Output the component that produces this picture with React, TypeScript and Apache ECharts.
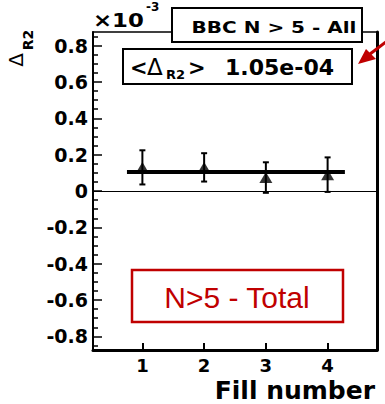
import React, { useEffect, useRef } from "react";
import * as echarts from "echarts";

// ---- data ----
const fills = [1, 2, 3, 4];
const deltaR2 = [0.13, 0.13, 0.074, 0.09]; // x10^-3
const deltaErr = [0.094, 0.078, 0.084, 0.095];
const meanValue = 0.105; // <Delta_R2> = 1.05e-04
const fitRange = [0.75, 4.28];
const xTicks = [1, 2, 3, 4];
const yTicks = [-0.8, -0.6, -0.4, -0.2, 0, 0.2, 0.4, 0.6, 0.8];
const yMinorTicks = [
  -0.85, -0.75, -0.7, -0.65, -0.55, -0.5, -0.45, -0.35, -0.3, -0.25, -0.15, -0.1, -0.05,
  0.05, 0.1, 0.15, 0.25, 0.3, 0.35, 0.45, 0.5, 0.55, 0.65, 0.7, 0.75, 0.85,
];
const xRange = [0.2, 4.8];
const yRange = [-0.875, 0.875];

const BOLD = "DejaVu Sans";
const RED = "#c00000";

export default function App() {
  const ref = useRef<HTMLDivElement>(null);
  useEffect(() => {
    if (!ref.current) return;
    const chart = echarts.init(ref.current, undefined, { renderer: "svg" });
    const option: any = {
      animation: false,
      backgroundColor: "#fff",
      grid: {
        left: 93,
        right: 8,
        top: 32,
        bottom: 54,
        containLabel: false,
        outerBoundsMode: "none",
      },
      xAxis: [
        {
          type: "value",
          min: xRange[0],
          max: xRange[1],
          position: "bottom",
          axisLine: { show: true, onZero: false, lineStyle: { color: "#000", width: 3 } },
          axisTick: {
            show: true,
            inside: true,
            length: 7,
            customValues: xTicks,
            lineStyle: { color: "#000", width: 2 },
          },
          axisLabel: {
            color: "#000",
            fontFamily: BOLD,
            fontWeight: "bold",
            fontSize: 18,
            margin: 6,
            customValues: xTicks,
          },
          splitLine: { show: false },
        },
        {
          type: "value",
          min: xRange[0],
          max: xRange[1],
          position: "top",
          axisLine: { show: true, onZero: false, lineStyle: { color: "#000", width: 1.5 } },
          axisTick: { show: false },
          axisLabel: { show: false },
          splitLine: { show: false },
        },
      ],
      yAxis: [
        {
          type: "value",
          min: yRange[0],
          max: yRange[1],
          position: "left",
          axisLine: { show: true, onZero: false, lineStyle: { color: "#000", width: 2 } },
          axisTick: {
            show: true,
            inside: true,
            length: 9,
            customValues: yTicks,
            lineStyle: { color: "#000", width: 1.5 },
          },
          axisLabel: {
            color: "#000",
            fontFamily: BOLD,
            fontWeight: "bold",
            fontSize: 19,
            margin: 5,
            customValues: yTicks,
            formatter: (v: number) => (Math.abs(v) < 1e-9 ? "0" : v.toFixed(1)),
          },
          splitLine: { show: false },
        },
        {
          type: "value",
          min: yRange[0],
          max: yRange[1],
          position: "left",
          axisLine: { show: false },
          axisTick: {
            show: true,
            inside: true,
            length: 5,
            customValues: yMinorTicks,
            lineStyle: { color: "#000", width: 1.5 },
          },
          axisLabel: { show: false },
          splitLine: { show: false },
        },
        {
          type: "value",
          min: yRange[0],
          max: yRange[1],
          position: "right",
          axisLine: { show: true, onZero: false, lineStyle: { color: "#000", width: 3 } },
          axisTick: { show: false },
          axisLabel: { show: false },
          splitLine: { show: false },
        },
      ],
      series: [
        {
          type: "custom",
          name: "errors",
          xAxisIndex: 0,
          yAxisIndex: 0,
          data: fills.map((f, i) => [f, deltaR2[i], deltaErr[i]]),
          renderItem: (params: any, api: any) => {
            const x = api.value(0);
            const y = api.value(1);
            const e = api.value(2);
            const top = api.coord([x, y + e]);
            const bot = api.coord([x, y - e]);
            const cap = 3;
            const style = { stroke: "#000", lineWidth: 2 };
            return {
              type: "group",
              children: [
                { type: "line", shape: { x1: top[0], y1: top[1], x2: bot[0], y2: bot[1] }, style },
                { type: "line", shape: { x1: top[0] - cap, y1: top[1], x2: top[0] + cap, y2: top[1] }, style },
                { type: "line", shape: { x1: bot[0] - cap, y1: bot[1], x2: bot[0] + cap, y2: bot[1] }, style },
              ],
            };
          },
          z: 3,
        },
        {
          type: "scatter",
          name: "Delta_R2",
          xAxisIndex: 0,
          yAxisIndex: 0,
          symbol: "triangle",
          symbolSize: [13, 11],
          itemStyle: { color: "#000" },
          data: fills.map((f, i) => [f, deltaR2[i]]),
          z: 4,
          markLine: {
            silent: true,
            symbol: "none",
            label: { show: false },
            lineStyle: { color: "#000", width: 1.2, type: "solid" },
            data: [{ yAxis: 0 }],
          },
        },
        {
          type: "line",
          name: "fit",
          xAxisIndex: 0,
          yAxisIndex: 0,
          showSymbol: false,
          symbol: "none",
          lineStyle: { color: "#000", width: 4 },
          data: [
            [fitRange[0], meanValue],
            [fitRange[1], meanValue],
          ],
          z: 5,
        },
      ],
      graphic: [
        // x axis title
        {
          type: "text",
          x: 375,
          y: 390,
          style: {
            text: "Fill number",
            fontFamily: BOLD,
            fontWeight: "bold",
            fontSize: 25,
            fill: "#000",
            align: "right",
            verticalAlign: "middle",
          },
        },
        // x10^-3
        {
          type: "text",
          x: 93,
          y: 21,
          scaleX: 1.2,
          style: {
            text: "×10",
            fontFamily: BOLD,
            fontWeight: "bold",
            fontSize: 19,
            fill: "#000",
            align: "left",
            verticalAlign: "middle",
          },
        },
        {
          type: "text",
          x: 146,
          y: 7,
          style: {
            text: "-3",
            fontFamily: BOLD,
            fontWeight: "bold",
            fontSize: 12,
            fill: "#000",
            align: "left",
            verticalAlign: "middle",
          },
        },
        // y title Delta_R2
        {
          type: "text",
          x: 16,
          y: 60,
          rotation: Math.PI / 2,
          style: {
            text: "Δ",
            fontFamily: BOLD,
            fontSize: 20,
            fill: "#000",
            align: "center",
            verticalAlign: "middle",
          },
        },
        {
          type: "text",
          x: 28,
          y: 40,
          rotation: Math.PI / 2,
          style: {
            text: "R2",
            fontFamily: BOLD,
            fontWeight: "bold",
            fontSize: 14,
            fill: "#000",
            align: "center",
            verticalAlign: "middle",
          },
        },
        // BBC box
        {
          type: "rect",
          shape: { x: 172, y: 8, width: 190, height: 34 },
          style: { fill: "#fff", stroke: "#000", lineWidth: 2 },
          z: 10,
        },
        {
          type: "text",
          x: 274,
          y: 27,
          scaleX: 1.25,
          z: 11,
          style: {
            text: "BBC N > 5 - All",
            fontFamily: BOLD,
            fontWeight: "bold",
            fontSize: 16,
            fill: "#000",
            align: "center",
            verticalAlign: "middle",
          },
        },
        // Mean box
        {
          type: "rect",
          shape: { x: 123, y: 49, width: 229, height: 35 },
          style: { fill: "#fff", stroke: "#000", lineWidth: 2 },
          z: 10,
        },
        {
          type: "text",
          x: 130,
          y: 68,
          z: 11,
          style: { text: "<", fontFamily: BOLD, fontWeight: "bold", fontSize: 21, fill: "#000", align: "left", verticalAlign: "middle" },
        },
        {
          type: "text",
          x: 147,
          y: 67,
          z: 11,
          style: { text: "Δ", fontFamily: BOLD, fontSize: 23, fill: "#000", align: "left", verticalAlign: "middle" },
        },
        {
          type: "text",
          x: 166,
          y: 74,
          z: 11,
          style: { text: "R2", fontFamily: BOLD, fontWeight: "bold", fontSize: 13, fill: "#000", align: "left", verticalAlign: "middle" },
        },
        {
          type: "text",
          x: 188,
          y: 68,
          z: 11,
          style: { text: ">", fontFamily: BOLD, fontWeight: "bold", fontSize: 21, fill: "#000", align: "left", verticalAlign: "middle" },
        },
        {
          type: "text",
          x: 225,
          y: 68,
          scaleX: 1.05,
          z: 11,
          style: { text: "1.05e-04", fontFamily: BOLD, fontWeight: "bold", fontSize: 21, fill: "#000", align: "left", verticalAlign: "middle" },
        },
        // red arrow
        {
          type: "line",
          shape: { x1: 370, y1: 54, x2: 387, y2: 41 },
          style: { stroke: RED, lineWidth: 3 },
          z: 12,
        },
        {
          type: "polygon",
          shape: { points: [[358, 64], [366, 49], [376, 59]] },
          style: { fill: RED },
          z: 12,
        },
        // red box
        {
          type: "rect",
          shape: { x: 132, y: 270, width: 211, height: 52 },
          style: { fill: "#fff", stroke: RED, lineWidth: 2.5 },
          z: 10,
        },
        {
          type: "text",
          x: 237,
          y: 297,
          z: 11,
          style: {
            text: "N>5 - Total",
            fontFamily: "Liberation Sans",
            fontSize: 30,
            fill: RED,
            align: "center",
            verticalAlign: "middle",
          },
        },
      ],
    };
    chart.setOption(option);
    return () => chart.dispose();
  }, []);
  return (
    <div
      ref={ref}
      style={{ position: "fixed", left: 0, top: 0, width: 385, height: 404, background: "#fff" }}
    />
  );
}
